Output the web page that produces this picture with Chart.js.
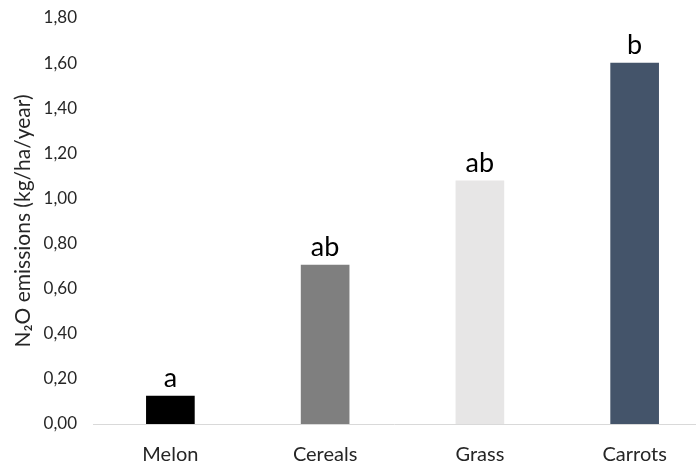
<!DOCTYPE html>
<html>
<head>
<meta charset="utf-8">
<script src="https://cdn.jsdelivr.net/npm/chart.js@4"></script>
<style>
  html, body { margin: 0; padding: 0; background: #fff; }
  #wrap { width: 698px; height: 466px; }
</style>
</head>
<body>
<div id="wrap"><canvas id="c" width="698" height="466"></canvas></div>
<script>
// Crop types and their mean N2O emissions
const categories = ['Melon', 'Cereals', 'Grass', 'Carrots'];
const emissions = [0.124, 0.705, 1.078, 1.60];
const groupLetters = ['a', 'ab', 'ab', 'b'];
const barColors = ['#000000', '#7f7f7f', '#e7e6e6', '#44546a'];
const yTicks = [0, 0.2, 0.4, 0.6, 0.8, 1.0, 1.2, 1.4, 1.6, 1.8];

const FONT = 'Lato, "Open Sans", sans-serif';
const points = categories.map((c, i) => ({ x: i, y: emissions[i] }));

// Significance letters above each bar
const letterPlugin = {
  id: 'letters',
  afterDatasetsDraw(chart) {
    const ctx = chart.ctx;
    const meta = chart.getDatasetMeta(0);
    ctx.save();
    ctx.font = '27px ' + FONT;
    ctx.fillStyle = '#000';
    ctx.textAlign = 'center';
    ctx.textBaseline = 'bottom';
    meta.data.forEach((bar, i) => {
      ctx.fillText(groupLetters[i], bar.x, bar.y - 4);
    });
    ctx.restore();
  }
};

new Chart(document.getElementById('c'), {
  type: 'bar',
  data: {
    datasets: [{
      data: points,
      backgroundColor: barColors,
      borderWidth: 0,
      barThickness: 48
    }]
  },
  plugins: [letterPlugin],
  options: {
    responsive: false,
    animation: false,
    layout: { padding: { top: 18, right: 3, bottom: 0, left: 0 } },
    plugins: { legend: { display: false }, tooltip: { enabled: false } },
    scales: {
      x: {
        type: 'linear',
        offset: false,
        min: -0.5,
        max: 3.39,
        grid: { display: false, drawTicks: false, offset: false },
        border: { display: true, color: '#d9d9d9', width: 1 },
        afterBuildTicks: (s) => { s.ticks = categories.map((c, i) => ({ value: i })); },
        ticks: {
          padding: 19,
          color: '#262626',
          font: { family: FONT, size: 20 },
          callback: (v) => categories[v]
        },
        afterFit: (s) => { s.height = 42; s.paddingLeft = 0; s.paddingRight = 0; }
      },
      y: {
        min: 0,
        max: 1.8,
        grid: { display: false, drawTicks: false },
        border: { display: false },
        afterBuildTicks: (s) => { s.ticks = yTicks.map(v => ({ value: v })); },
        ticks: {
          padding: 16,
          color: '#262626',
          font: { family: FONT, size: 17 },
          callback: (v) => v.toFixed(2).replace('.', ',')
        },
        title: {
          display: true,
          text: 'N\u2082O emissions (kg/ha/year)',
          color: '#262626',
          font: { family: FONT, size: 21 },
          padding: { top: 11, bottom: 0 }
        },
        afterFit: (s) => { s.width = 93; s.paddingTop = 10; s.paddingBottom = 10; }
      }
    }
  }
});
</script>
</body>
</html>
